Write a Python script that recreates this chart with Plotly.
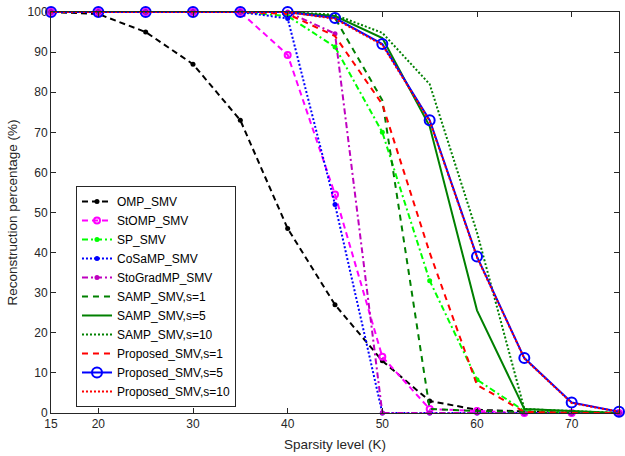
import plotly.graph_objects as go

# Sparsity levels (K)
sparsity = [15, 20, 25, 30, 35, 40, 45, 50, 55, 60, 65, 70, 75]

# Reconstruction percentage (%) for each algorithm
omp_smv = [100, 99.5, 95, 87, 73, 46, 27, 13, 3, 0.8, 0.4, 0, 0]
stomp_smv = [100, 100, 100, 100, 100, 89.3, 54.5, 14, 1, 0.5, 0, 0, 0]
sp_smv = [100, 100, 100, 100, 100, 99, 91.3, 70, 33, 8.3, 0.5, 0, 0]
cosamp_smv = [100, 100, 100, 100, 100, 98.4, 52, 0, 0, 0, 0, 0, 0]
stogradmp_smv = [100, 100, 100, 100, 100, 100, 94.6, 0, 0, 0, 0, 0, 0]
samp_s1 = [100, 100, 100, 100, 100, 100, 98.5, 78, 1, 0.5, 0.3, 0, 0]
samp_s5 = [100, 100, 100, 100, 100, 100, 99, 93.5, 71.5, 25.6, 1, 0.5, 0]
samp_s10 = [100, 100, 100, 100, 100, 100, 99.3, 94.8, 82, 45, 1, 0.5, 0]
proposed_s1 = [100, 100, 100, 100, 100, 99.5, 94, 77, 40, 7, 0.3, 0, 0]
proposed_s5 = [100, 100, 100, 100, 100, 100, 98.5, 92, 73, 39, 13.7, 2.6, 0.3]
proposed_s10 = [100, 100, 100, 100, 100, 100, 98.3, 91.8, 72.8, 38.8, 13.6, 2.5, 0.3]

series = [
    ("OMP_SMV", omp_smv, "#000000", "6px,4px", dict(symbol="circle", size=5)),
    ("StOMP_SMV", stomp_smv, "#FF00FF", "6px,4px", dict(symbol="circle-open", size=6, line=dict(width=2))),
    ("SP_SMV", sp_smv, "#00FF00", "6px,3px,2px,3px", dict(symbol="circle", size=5)),
    ("CoSaMP_SMV", cosamp_smv, "#0000FF", "2px,2px", dict(symbol="circle", size=5)),
    ("StoGradMP_SMV", stogradmp_smv, "#BF00BF", "6px,3px,2px,3px", dict(symbol="circle", size=5)),
    ("SAMP_SMV,s=1", samp_s1, "#008000", "6px,5px", None),
    ("SAMP_SMV,s=5", samp_s5, "#008000", "solid", None),
    ("SAMP_SMV,s=10", samp_s10, "#008000", "2px,2px", None),
    ("Proposed_SMV,s=1", proposed_s1, "#FF0000", "6px,5px", None),
    ("Proposed_SMV,s=5", proposed_s5, "#0000FF", "solid", dict(symbol="circle-open", size=10, line=dict(width=2))),
    ("Proposed_SMV,s=10", proposed_s10, "#FF0000", "2px,2px", None),
]

FONT = "Liberation Sans, Arial, sans-serif"
TEXT_COLOR = "#262626"

fig = go.Figure()
for name, values, color, dash, marker in series:
    kwargs = dict(
        x=sparsity,
        y=values,
        name=name,
        line=dict(color=color, width=2, dash=dash),
        cliponaxis=False,
    )
    if marker is not None:
        kwargs["mode"] = "lines+markers"
        kwargs["marker"] = dict(color=color, **marker)
    else:
        kwargs["mode"] = "lines"
    fig.add_trace(go.Scatter(**kwargs))

axis_common = dict(
    showline=True,
    linecolor=TEXT_COLOR,
    linewidth=1,
    mirror="ticks",
    ticks="inside",
    ticklen=5,
    tickcolor=TEXT_COLOR,
    showgrid=False,
    zeroline=False,
    tickfont=dict(family=FONT, size=12, color=TEXT_COLOR),
)

fig.update_xaxes(
    range=[15, 75],
    tickvals=[15, 20, 30, 40, 50, 60, 70, 75],
    title=dict(text="Sparsity level (K)", font=dict(family=FONT, size=13.5, color=TEXT_COLOR), standoff=9),
    **axis_common,
)
fig.update_yaxes(
    range=[0, 100],
    tickvals=list(range(0, 101, 10)),
    title=dict(text="Reconstruction percentage (%)", font=dict(family=FONT, size=13.5, color=TEXT_COLOR), standoff=6),
    **axis_common,
)

fig.update_layout(
    width=625,
    height=456,
    margin=dict(l=51, r=5, t=10, b=43),
    paper_bgcolor="white",
    plot_bgcolor="white",
    font=dict(family=FONT, color="#000000"),
    legend=dict(
        x=0.044,
        y=0.015,
        xanchor="left",
        yanchor="bottom",
        bgcolor="white",
        bordercolor=TEXT_COLOR,
        borderwidth=1,
        font=dict(family=FONT, size=12, color="#000000"),
        tracegroupgap=0,
        itemwidth=30,
    ),
)

fig.write_html("out.html")
